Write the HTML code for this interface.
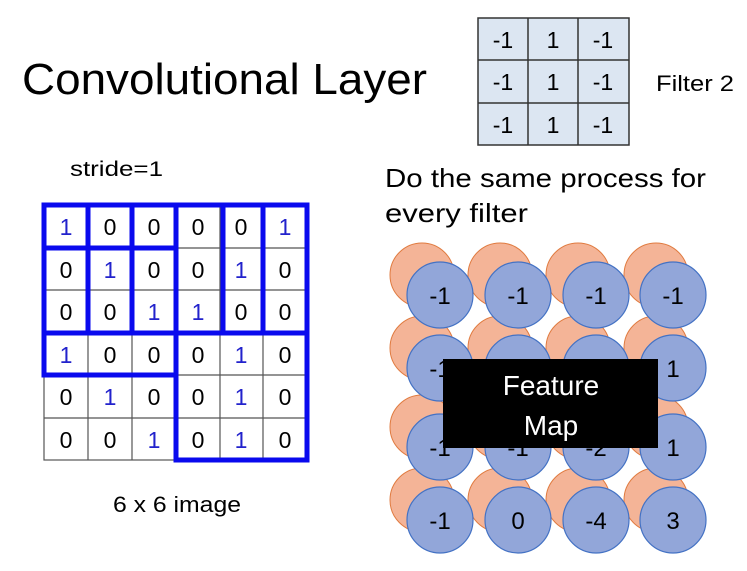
<!DOCTYPE html>
<html><head><meta charset="utf-8"><style>
html,body{margin:0;padding:0;background:#fff;width:747px;height:571px;overflow:hidden}
text{font-family:"Liberation Sans",sans-serif}
</style></head><body>
<svg width="747" height="571" viewBox="0 0 747 571" xmlns="http://www.w3.org/2000/svg">
<text x="22" y="94" font-size="44" textLength="405" lengthAdjust="spacingAndGlyphs" fill="#000">Convolutional Layer</text>
<rect x="478" y="18" width="151" height="127" fill="#dce6f2" stroke="#333" stroke-width="1.5"/>
<g stroke="#333" stroke-width="1.5">
<line x1="528" y1="18" x2="528" y2="145"/><line x1="578" y1="18" x2="578" y2="145"/>
<line x1="478" y1="60" x2="629" y2="60"/><line x1="478" y1="103" x2="629" y2="103"/>
</g>
<g font-size="23" text-anchor="middle" fill="#000">
<text x="503" y="48">-1</text><text x="553" y="48">1</text><text x="603" y="48">-1</text>
<text x="503" y="90">-1</text><text x="553" y="90">1</text><text x="603" y="90">-1</text>
<text x="503" y="133">-1</text><text x="553" y="133">1</text><text x="603" y="133">-1</text>
</g>
<text x="656" y="91" font-size="22" textLength="78" lengthAdjust="spacingAndGlyphs">Filter 2</text>
<text x="70" y="176" font-size="21" textLength="93" lengthAdjust="spacingAndGlyphs">stride=1</text>
<text x="385" y="187" font-size="26" textLength="321" lengthAdjust="spacingAndGlyphs">Do the same process for</text>
<text x="385" y="222" font-size="26" textLength="143" lengthAdjust="spacingAndGlyphs">every filter</text>
<text x="113" y="512" font-size="22" textLength="128" lengthAdjust="spacingAndGlyphs">6 x 6 image</text>
<g stroke="#555" stroke-width="1.2" fill="none">
<rect x="44" y="205" width="263" height="255"/>
<line x1="88" y1="205" x2="88" y2="460"/><line x1="132" y1="205" x2="132" y2="460"/><line x1="176" y1="205" x2="176" y2="460"/><line x1="220" y1="205" x2="220" y2="460"/><line x1="263" y1="205" x2="263" y2="460"/>
<line x1="44" y1="248" x2="307" y2="248"/><line x1="44" y1="290" x2="307" y2="290"/><line x1="44" y1="333" x2="307" y2="333"/><line x1="44" y1="375" x2="307" y2="375"/><line x1="44" y1="418" x2="307" y2="418"/>
</g>
<g font-size="23" text-anchor="middle">
<text x="66" y="235" fill="#22c">1</text><text x="110" y="235">0</text><text x="154" y="235">0</text><text x="198" y="235">0</text><text x="241" y="235">0</text><text x="285" y="235" fill="#22c">1</text>
<text x="66" y="278">0</text><text x="110" y="278" fill="#22c">1</text><text x="154" y="278">0</text><text x="198" y="278">0</text><text x="241" y="278" fill="#22c">1</text><text x="285" y="278">0</text>
<text x="66" y="320">0</text><text x="110" y="320">0</text><text x="154" y="320" fill="#22c">1</text><text x="198" y="320" fill="#22c">1</text><text x="241" y="320">0</text><text x="285" y="320">0</text>
<text x="66" y="363" fill="#22c">1</text><text x="110" y="363">0</text><text x="154" y="363">0</text><text x="198" y="363">0</text><text x="241" y="363" fill="#22c">1</text><text x="285" y="363">0</text>
<text x="66" y="405">0</text><text x="110" y="405" fill="#22c">1</text><text x="154" y="405">0</text><text x="198" y="405">0</text><text x="241" y="405" fill="#22c">1</text><text x="285" y="405">0</text>
<text x="66" y="448">0</text><text x="110" y="448">0</text><text x="154" y="448" fill="#22c">1</text><text x="198" y="448">0</text><text x="241" y="448" fill="#22c">1</text><text x="285" y="448">0</text>
</g>
<g stroke="#0a0aee" stroke-width="5" fill="none" stroke-linecap="square">
<line x1="44" y1="205" x2="307" y2="205"/>
<line x1="44" y1="205" x2="44" y2="375"/>
<line x1="307" y1="205" x2="307" y2="460"/>
<line x1="88" y1="205" x2="88" y2="333"/><line x1="132" y1="205" x2="132" y2="333"/>
<line x1="176" y1="205" x2="176" y2="460"/>
<line x1="223" y1="205" x2="223" y2="333"/><line x1="263" y1="205" x2="263" y2="333"/>
<line x1="44" y1="248" x2="176" y2="248"/>
<line x1="44" y1="333" x2="307" y2="333"/>
<line x1="44" y1="375" x2="176" y2="375"/>
<line x1="176" y1="460" x2="307" y2="460"/>
</g>
<g stroke="#e07b40" stroke-width="1" fill="#f4b497">
<circle cx="422" cy="275" r="32"/><circle cx="500" cy="275" r="32"/><circle cx="578" cy="275" r="32"/><circle cx="656" cy="275" r="32"/>
<circle cx="422" cy="348" r="32"/><circle cx="500" cy="348" r="32"/><circle cx="578" cy="348" r="32"/><circle cx="656" cy="348" r="32"/>
<circle cx="422" cy="427" r="32"/><circle cx="500" cy="427" r="32"/><circle cx="578" cy="427" r="32"/><circle cx="656" cy="427" r="32"/>
<circle cx="422" cy="500" r="32"/><circle cx="500" cy="500" r="32"/><circle cx="578" cy="500" r="32"/><circle cx="656" cy="500" r="32"/>
</g>
<g stroke="#4472c4" stroke-width="1.2" fill="#92a6d9">
<circle cx="440" cy="295" r="33"/><circle cx="518" cy="295" r="33"/><circle cx="596" cy="295" r="33"/><circle cx="673" cy="295" r="33"/>
<circle cx="440" cy="368" r="33"/><circle cx="518" cy="368" r="33"/><circle cx="596" cy="368" r="33"/><circle cx="673" cy="368" r="33"/>
<circle cx="440" cy="447" r="33"/><circle cx="518" cy="447" r="33"/><circle cx="596" cy="447" r="33"/><circle cx="673" cy="447" r="33"/>
<circle cx="440" cy="520" r="33"/><circle cx="518" cy="520" r="33"/><circle cx="596" cy="520" r="33"/><circle cx="673" cy="520" r="33"/>
</g>
<g font-size="24" text-anchor="middle" fill="#000">
<text x="440" y="304">-1</text><text x="518" y="304">-1</text><text x="596" y="304">-1</text><text x="673" y="304">-1</text>
<text x="440" y="377">-1</text><text x="673" y="377">1</text>
<text x="440" y="456">-1</text><text x="518" y="456">-1</text><text x="596" y="456">-2</text><text x="673" y="456">1</text>
<text x="440" y="529">-1</text><text x="518" y="529">0</text><text x="596" y="529">-4</text><text x="673" y="529">3</text>
</g>
<rect x="443" y="359" width="215" height="89" fill="#000"/>
<g font-size="28" text-anchor="middle" fill="#fff">
<text x="551" y="395">Feature</text><text x="551" y="435">Map</text>
</g>
</svg>
</body></html>
